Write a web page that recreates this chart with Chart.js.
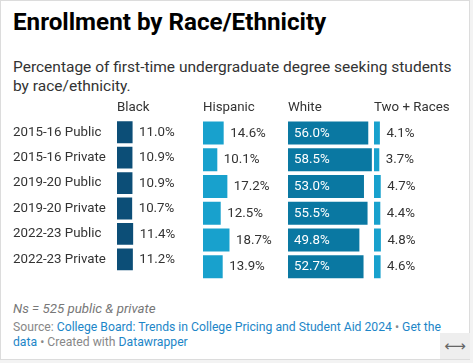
<!DOCTYPE html>
<html>
<head>
<meta charset="utf-8">
<script src="https://cdn.jsdelivr.net/npm/chart.js@4.4.1/dist/chart.umd.min.js"></script>
<style>
  html, body { margin: 0; padding: 0; background: #f3f3f3; }
  body { width: 473px; height: 363px; position: relative; overflow: hidden; font-family: Roboto, "Noto Sans", sans-serif; }
  #frame { position: absolute; left: 0; top: 0; width: 470px; height: 360px; box-sizing: border-box; border: 1px solid #dcdcdc; background: #fff; }
  .abs { position: absolute; white-space: nowrap; }
  #title { left: 13px; top: 8px; font-size: 24.2px; line-height: 28px; font-weight: 700; color: #000; }
  #subtitle { left: 13px; top: 58px; font-size: 15.5px; line-height: 19px; color: #333; }
  #notes { left: 13px; top: 300.5px; font-size: 13.3px; line-height: 16px; font-style: italic; color: #777; }
  #source { left: 13px; top: 320px; font-size: 12.2px; line-height: 15px; color: #888; }
  #source a { color: #1d86c8; text-decoration: none; }
  #resize { left: 440px; top: 333px; width: 30px; height: 26px; background: #eeeeee; color: #666; font-family: "DejaVu Sans", sans-serif; font-size: 15px; line-height: 26px; text-align: center; }
  canvas { position: absolute; }
</style>
</head>
<body>
<div id="frame"></div>
<div class="abs" id="title">Enrollment by Race/Ethnicity</div>
<div class="abs" id="subtitle">Percentage of first-time undergraduate degree seeking students<br>by race/ethnicity.</div>
<div class="abs" id="notes">Ns = 525 public &amp; private</div>
<div class="abs" id="source">Source: <a>College Board: Trends in College Pricing and Student Aid 2024</a> • <a>Get the</a><br><a>data</a> • Created with <a>Datawrapper</a></div>
<div class="abs" id="resize">⟷</div>

<canvas id="c0" width="189" height="182" style="left:13px;top:98px;"></canvas>
<canvas id="c1" width="85" height="182" style="left:203px;top:98px;"></canvas>
<canvas id="c2" width="86" height="182" style="left:288px;top:98px;"></canvas>
<canvas id="c3" width="86" height="182" style="left:374px;top:98px;"></canvas>

<script>
const categories = ['2015-16 Public', '2015-16 Private', '2019-20 Public', '2019-20 Private', '2022-23 Public', '2022-23 Private'];
const seriesNames = ['Black', 'Hispanic', 'White', 'Two + Races'];
const black = [11.0, 10.9, 10.9, 10.7, 11.4, 11.2];
const hispanic = [14.6, 10.1, 17.2, 12.5, 18.7, 13.9];
const white = [56.0, 58.5, 53.0, 55.5, 49.8, 52.7];
const twoPlus = [4.1, 3.7, 4.7, 4.4, 4.8, 4.6];

const seriesValues = [black, hispanic, white, twoPlus];
const seriesColors = ['#0c4e77', '#18a1cd', '#0a78a2', '#18a1cd'];
const labelInside = [false, false, true, false];
const FONT = 'Roboto, "Noto Sans", sans-serif';

const valueLabels = {
  id: 'valueLabels',
  afterDatasetsDraw(chart, args, opts) {
    const ctx = chart.ctx;
    const meta = chart.getDatasetMeta(0);
    const data = chart.data.datasets[0].data;
    ctx.save();
    ctx.font = '13.3px ' + FONT;
    ctx.textBaseline = 'middle';
    ctx.textAlign = 'left';
    meta.data.forEach((bar, i) => {
      const txt = data[i].toFixed(1) + '%';
      if (opts.inside) {
        ctx.fillStyle = '#ffffff';
        ctx.fillText(txt, bar.base + 6, bar.y + 0.5);
      } else {
        ctx.fillStyle = '#333333';
        ctx.fillText(txt, bar.x + 6.5, bar.y + 0.5);
      }
    });
    ctx.restore();
  }
};

seriesNames.forEach((name, k) => {
  const first = k === 0;
  const yScale = first ? {
    display: true,
    grid: { display: false },
    border: { display: false },
    ticks: {
      crossAlign: 'far',
      padding: 0,
      color: '#333',
      font: { family: FONT, size: 13.3 }
    },
    afterFit(scale) { scale.width = 104; }
  } : { display: false };
  new Chart(document.getElementById('c' + k), {
    type: 'bar',
    data: {
      labels: categories,
      datasets: [{
        label: name,
        data: seriesValues[k],
        backgroundColor: seriesColors[k],
        borderWidth: 0,
        categoryPercentage: 1,
        barPercentage: 0.86
      }]
    },
    plugins: [valueLabels],
    options: {
      indexAxis: 'y',
      responsive: false,
      animation: false,
      devicePixelRatio: 1,
      layout: { padding: 0 },
      scales: {
        x: { display: false, min: 0, max: 60 },
        y: yScale
      },
      plugins: {
        legend: { display: false },
        tooltip: { enabled: false },
        valueLabels: { inside: labelInside[k] },
        title: {
          display: true,
          text: name,
          align: 'start',
          fullSize: false,
          color: '#333',
          font: { family: FONT, size: 13.3, weight: 'normal' },
          padding: { top: 2, bottom: 3.6 }
        }
      }
    }
  });
});
</script>
</body>
</html>
